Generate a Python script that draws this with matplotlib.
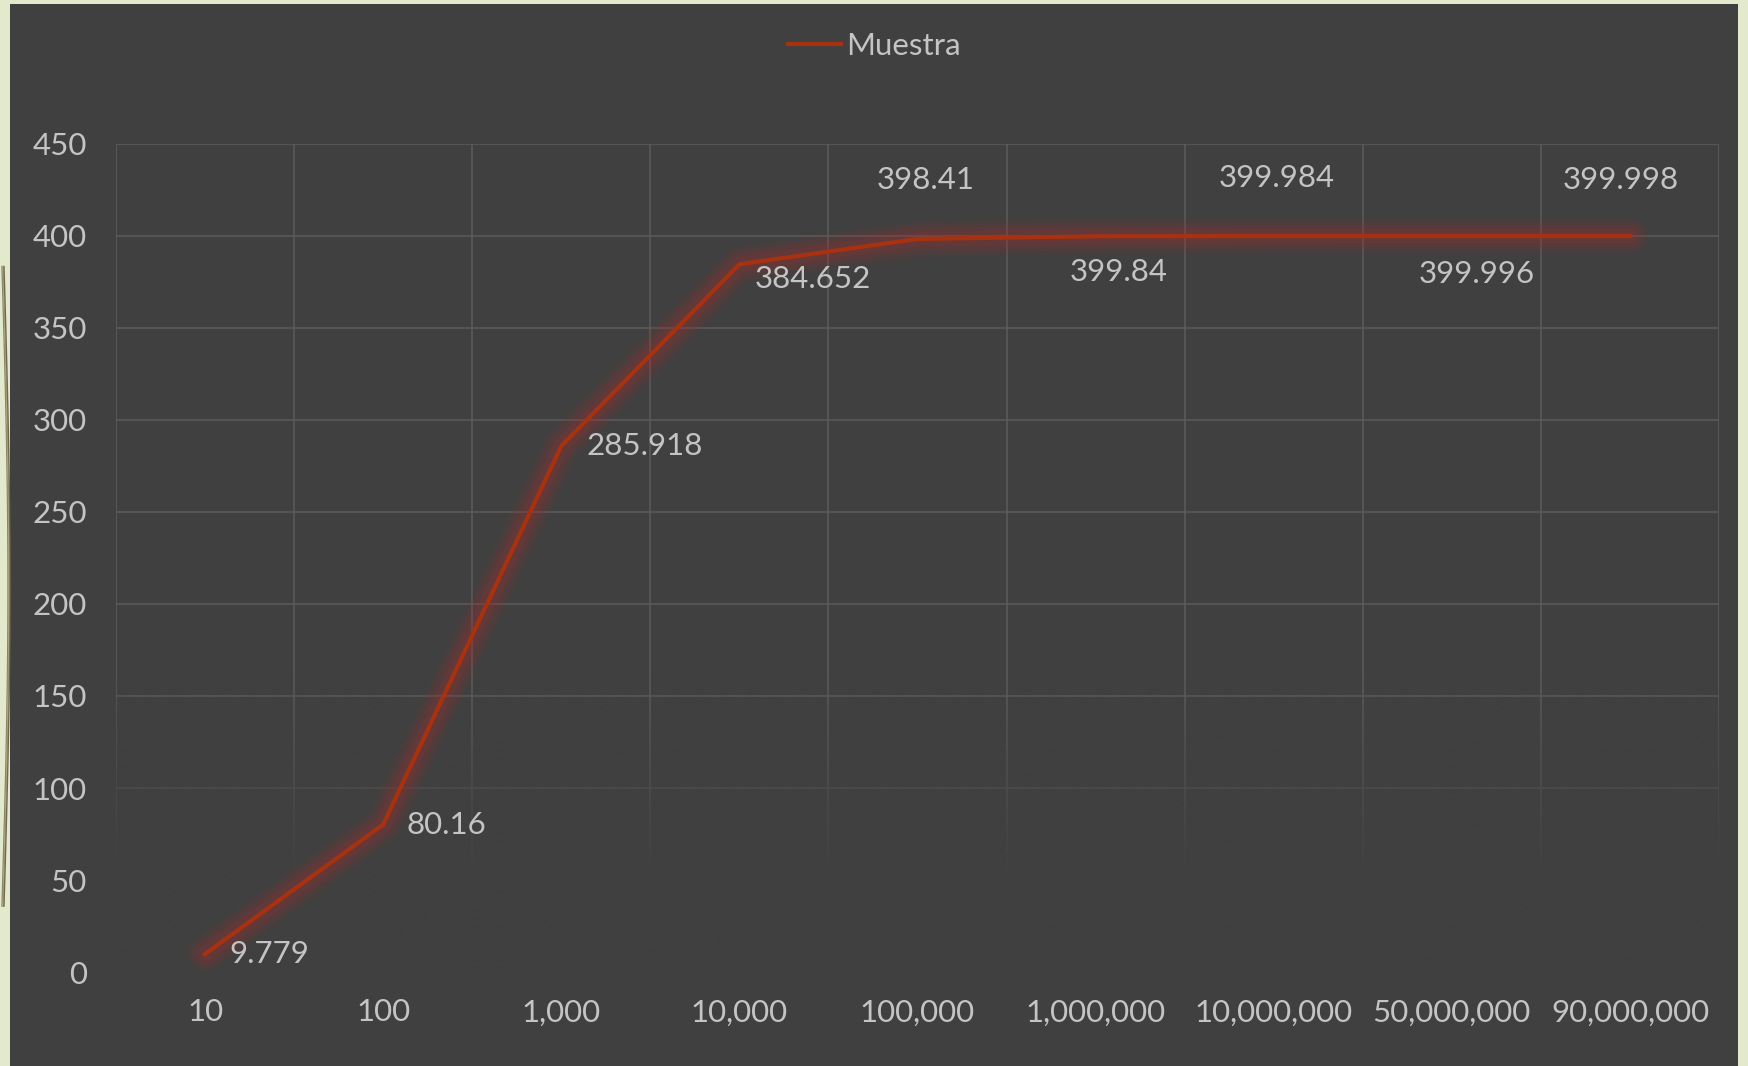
import numpy as np
import matplotlib
matplotlib.use("Agg")
import matplotlib.pyplot as plt
from matplotlib.patches import Rectangle

# data
categories = ["10", "100", "1,000", "10,000", "100,000", "1,000,000",
              "10,000,000", "50,000,000", "90,000,000"]
muestra = [9.779, 80.16, 285.918, 384.652, 398.41, 399.84, 399.984, 399.996, 399.998]
label_text = ["9.779", "80.16", "285.918", "384.652", "398.41", "399.84",
              "399.984", "399.996", "399.998"]
y_ticks = [0, 50, 100, 150, 200, 250, 300, 350, 400, 450]

# label offsets in pixels (dx, dy, ha)
label_offsets = [(24, 0, "left"), (23, 0, "left"), (25, 0, "left"), (15, -15, "left"),
                 (8, 59, "center"), (23, -36, "center"), (3, 58, "center"),
                 (25, -38, "center"), (-9, 56, "center")]

BG = "#404040"
TXT = "#c4c4c4"
GRID = "#5c5c5c"
RED = "#a8320f"
plt.rcParams["font.family"] = ["Lato", "DejaVu Sans"]

fig = plt.figure(figsize=(17.49, 10.66), dpi=100, facecolor="#e3e9cd")
fig.patches.append(Rectangle((10 / 1749, 0), 1728 / 1749, 1 - 4 / 1066,
                             transform=fig.transFigure, facecolor=BG,
                             edgecolor="none", zorder=-1))
# decorative curves in the left margin
tt = np.linspace(0, 1, 100)
for k, c in enumerate(["#8a8462", "#a9a27e", "#6f6a4d"]):
    xs = (2 + 6 * np.sin(np.pi * tt) + k) / 1749
    ys = 0.15 + 0.6 * tt
    fig.add_artist(plt.Line2D(xs, ys, color=c, lw=1.0, transform=fig.transFigure, zorder=-0.5))

ax = fig.add_axes([116 / 1749, 1 - 972 / 1066, 1603 / 1749, 828 / 1066])
ax.set_zorder(1)
ax.set_facecolor("none")
x = np.arange(len(categories))

ax.set_xlim(-0.5, len(categories) - 0.5)
ax.set_ylim(0, 450)
ax.set_xticks(x)
ax.set_xticklabels(categories)
ax.set_xticks(np.arange(len(categories) + 1) - 0.5, minor=True)
ax.set_yticks(y_ticks)
ax.set_yticklabels([str(v) for v in y_ticks])
ax.tick_params(axis="both", which="both", length=0, colors=TXT, labelsize=22.5)
ax.tick_params(axis="y", pad=21)
ax.tick_params(axis="x", pad=19)
for s in ax.spines.values():
    s.set_visible(False)
ax.set_axisbelow(True)
ax.grid(True, axis="y", which="major", color=GRID, lw=1.1)
ax.grid(True, axis="x", which="minor", color=GRID, lw=1.1)

# fade the grid toward the bottom
n = 200
alpha = np.clip((160 - np.linspace(0, 450, n)) / 110, 0, 1)
grad = np.zeros((n, 1, 4))
grad[..., 0:3] = matplotlib.colors.to_rgb(BG)
grad[:, 0, 3] = alpha
ax.imshow(grad, extent=[-0.5, len(categories) - 0.5, 0, 450], origin="lower",
          aspect="auto", zorder=1, interpolation="bilinear")

# glow + line
for lw, a in [(26, 0.07), (21, 0.08), (16, 0.1), (11, 0.12)]:
    ax.plot(x, muestra, color="#b02a2a", lw=lw, alpha=a, zorder=2,
            solid_capstyle="round", solid_joinstyle="round")
ax.plot(x, muestra, color=RED, lw=3, zorder=3, label="Muestra",
        solid_joinstyle="miter")

for xi, yi, t, (dx, dy, ha) in zip(x, muestra, label_text, label_offsets):
    ax.annotate(t, (xi, yi), xytext=(dx, dy), textcoords="offset pixels",
                ha=ha, va="center", color=TXT, fontsize=22.5, zorder=5)

ax.set_xlim(-0.5, len(categories) - 0.5)
ax.set_ylim(0, 450)

leg = fig.legend(loc="center", bbox_to_anchor=(0.5, 1 - 46 / 1066), frameon=False,
                 fontsize=22.5, handlelength=1.7, handletextpad=0.15, labelcolor=TXT)

fig.savefig("out.png", dpi=100, facecolor=fig.get_facecolor())
